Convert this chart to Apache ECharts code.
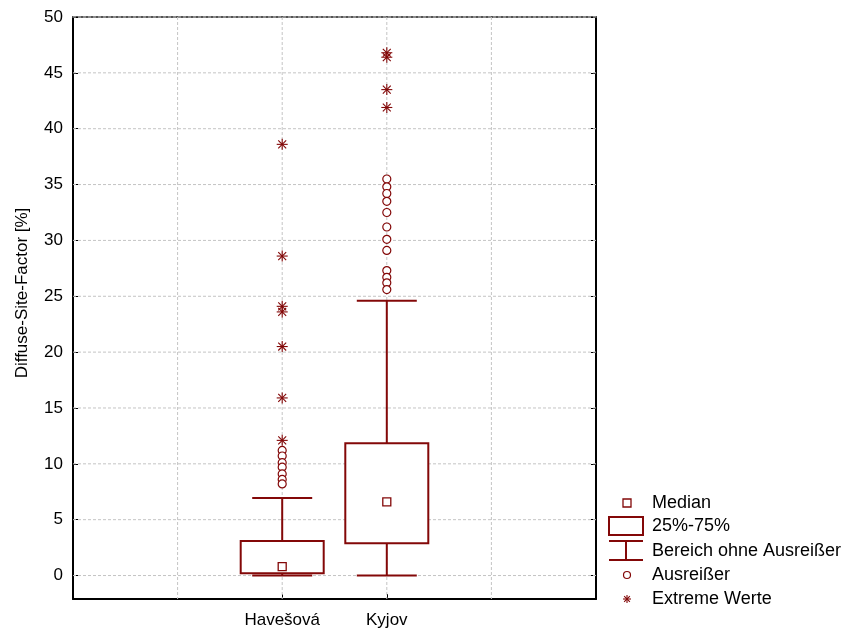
<!DOCTYPE html>
<html>
<head>
<meta charset="utf-8">
<script src="https://cdn.jsdelivr.net/npm/echarts@6/dist/echarts.min.js"></script>
<style>
  html, body { margin: 0; padding: 0; background: #fff; }
  #chart { width: 848px; height: 630px; }
</style>
</head>
<body>
<div id="chart"></div>
<script>
// Sites and their x positions on the 0..5 axis
const categories = ['Havešová', 'Kyjov'];
const categoryPos = [2, 3];

// Box statistics per site
const whiskerLow = [0, 0];
const quartile1 = [0.2, 2.9];
const median = [0.8, 6.6];
const quartile3 = [3.1, 11.85];
const whiskerHigh = [6.95, 24.6];

// Outliers (circles) and extreme values (asterisks)
const outliersHavesova = [11.2, 10.7, 10.1, 9.7, 9.1, 8.6, 8.2];
const outliersKyjov = [35.5, 34.8, 34.2, 33.5, 32.5, 31.2, 30.1, 29.1, 27.3, 26.7, 26.2, 25.6];
const extremesHavesova = [38.6, 28.6, 24.1, 23.6, 20.5, 15.9, 12.1];
const extremesKyjov = [46.8, 46.4, 43.5, 41.9];

// Tick values
const yTicks = [0, 5, 10, 15, 20, 25, 30, 35, 40, 45, 50];
const xGrid = [1, 2, 3, 4];

const yAxisTitle = 'Diffuse-Site-Factor [%]';
const legendLabels = ['Median', '25%-75%', 'Bereich ohne Ausreißer', 'Ausreißer', 'Extreme Werte'];

const RED = '#830808';
const FONT = '"Liberation Sans", Arial, sans-serif';

const boxData = categoryPos.map((x, i) => [x, whiskerLow[i], quartile1[i], median[i], quartile3[i], whiskerHigh[i]]);
const outlierData = [
  ...outliersHavesova.map(v => [categoryPos[0], v]),
  ...outliersKyjov.map(v => [categoryPos[1], v])
];
const extremeData = [
  ...extremesHavesova.map(v => [categoryPos[0], v]),
  ...extremesKyjov.map(v => [categoryPos[1], v])
];
const gridData = [
  ...xGrid.map(v => [0, v]),
  ...yTicks.map(v => [1, v])
];

function asteriskShapes(cx, cy, r, color) {
  const d = r * 0.72;
  const segs = [
    [cx - r, cy, cx + r, cy],
    [cx, cy - r, cx, cy + r],
    [cx - d, cy - d, cx + d, cy + d],
    [cx - d, cy + d, cx + d, cy - d]
  ];
  return segs.map(s => ({
    type: 'line',
    shape: { x1: s[0], y1: s[1], x2: s[2], y2: s[3] },
    style: { stroke: color, lineWidth: 1.1 }
  }));
}

const chart = echarts.init(document.getElementById('chart'), null, { renderer: 'canvas' });

const legendX = 627;
const legendTextX = 652;
const legendY = [503, 526, 551, 575, 599];

const extraGraphics = [
  // rotated y-axis title
  {
    type: 'text', x: 22, y: 293, rotation: Math.PI / 2,
    style: { text: yAxisTitle, fill: '#000', font: '17px ' + FONT, align: 'center', verticalAlign: 'middle' }
  },
  // legend keys
  { type: 'rect', shape: { x: legendX - 4, y: legendY[0] - 4, width: 8, height: 8 },
    style: { fill: '#fff', stroke: RED, lineWidth: 1.3 } },
  { type: 'rect', shape: { x: 609, y: 517, width: 34, height: 18 },
    style: { fill: '#fff', stroke: RED, lineWidth: 2 } },
  { type: 'line', shape: { x1: 609, y1: 541, x2: 643, y2: 541 }, style: { stroke: RED, lineWidth: 2 } },
  { type: 'line', shape: { x1: 609, y1: 560, x2: 643, y2: 560 }, style: { stroke: RED, lineWidth: 2 } },
  { type: 'line', shape: { x1: 626, y1: 541, x2: 626, y2: 560 }, style: { stroke: RED, lineWidth: 2 } },
  { type: 'circle', shape: { cx: legendX, cy: legendY[3], r: 3.5 },
    style: { fill: '#fff', stroke: RED, lineWidth: 1.2 } },
  { type: 'group', children: asteriskShapes(legendX, legendY[4], 4, RED) },
  ...legendLabels.map((t, i) => ({
    type: 'text', x: legendTextX, y: legendY[i],
    style: { text: t, fill: '#000', font: '18px ' + FONT, verticalAlign: 'middle' }
  }))
];

const option = {
  animation: false,
  backgroundColor: '#fff',
  grid: { left: 73, top: 17, right: 252, bottom: 31, containLabel: false },
  xAxis: [
    {
      type: 'value', min: 0, max: 5, position: 'bottom',
      axisLine: { show: true, onZero: false, lineStyle: { color: '#000', width: 2 } },
      axisTick: { show: true, inside: true, length: 5, customValues: categoryPos, lineStyle: { color: '#000', width: 1 } },
      axisLabel: {
        customValues: categoryPos, margin: 13, color: '#000', fontSize: 17, fontFamily: FONT,
        formatter: v => categories[categoryPos.indexOf(v)] || ''
      },
      splitLine: { show: false }
    },
    {
      type: 'value', min: 0, max: 5, position: 'top',
      axisLine: { show: true, onZero: false, lineStyle: { color: '#555', width: 2 } },
      axisTick: { show: false }, axisLabel: { show: false }, splitLine: { show: false }
    }
  ],
  yAxis: [
    {
      type: 'value', min: -2.1, max: 50, position: 'left',
      axisLine: { show: true, onZero: false, lineStyle: { color: '#000', width: 2 } },
      axisTick: { show: true, inside: true, length: 5, customValues: yTicks, lineStyle: { color: '#000', width: 1 } },
      axisLabel: { customValues: yTicks, margin: 10, color: '#000', fontSize: 17, fontFamily: FONT },
      splitLine: { show: false }
    },
    {
      type: 'value', min: -2.1, max: 50, position: 'right',
      axisLine: { show: true, onZero: false, lineStyle: { color: '#000', width: 2 } },
      axisTick: { show: true, inside: true, length: 5, customValues: yTicks, lineStyle: { color: '#000', width: 1 } },
      axisLabel: { show: false }, splitLine: { show: false }
    }
  ],
  series: [
    {
      // dashed grid lines: kind 0 = vertical, kind 1 = horizontal
      type: 'custom', z: 1, silent: true,
      data: gridData,
      encode: { x: 1, y: 1 },
      renderItem: (params, api) => {
        const kind = api.value(0);
        const v = api.value(1);
        const cs = params.coordSys;
        let shape;
        if (kind === 0) {
          const px = api.coord([v, 0])[0];
          shape = { x1: px, y1: cs.y, x2: px, y2: cs.y + cs.height };
        } else {
          const py = api.coord([0, v])[1];
          shape = { x1: cs.x, y1: py, x2: cs.x + cs.width, y2: py };
        }
        return { type: 'line', shape, style: { stroke: '#c4c4c4', lineWidth: 1, lineDash: [3, 2] } };
      }
    },
    {
      // box, whiskers and median
      type: 'custom', z: 3,
      data: boxData,
      encode: { x: 0, y: [1, 2, 3, 4, 5] },
      renderItem: (params, api) => {
        const x = api.value(0);
        const pLow = api.coord([x, api.value(1)]);
        const pQ1 = api.coord([x, api.value(2)]);
        const pMed = api.coord([x, api.value(3)]);
        const pQ3 = api.coord([x, api.value(4)]);
        const pHigh = api.coord([x, api.value(5)]);
        const cx = pQ1[0];
        const halfBox = 41.5;
        const halfCap = 30;
        const line = (x1, y1, x2, y2) => ({
          type: 'line', shape: { x1, y1, x2, y2 }, style: { stroke: RED, lineWidth: 2 }
        });
        return {
          type: 'group',
          children: [
            line(cx, pHigh[1], cx, pQ3[1]),
            line(cx, pQ1[1], cx, pLow[1]),
            line(cx - halfCap, pHigh[1], cx + halfCap, pHigh[1]),
            line(cx - halfCap, pLow[1], cx + halfCap, pLow[1]),
            {
              type: 'rect',
              shape: { x: cx - halfBox, y: pQ3[1], width: halfBox * 2, height: pQ1[1] - pQ3[1] },
              style: { fill: '#fff', stroke: RED, lineWidth: 2 }
            },
            {
              type: 'rect',
              shape: { x: cx - 4, y: pMed[1] - 4, width: 8, height: 8 },
              style: { fill: '#fff', stroke: RED, lineWidth: 1.3 }
            }
          ]
        };
      }
    },
    {
      type: 'scatter', z: 4,
      data: outlierData,
      symbol: 'circle', symbolSize: 8,
      itemStyle: { color: '#fff', borderColor: RED, borderWidth: 1.2, opacity: 1 }
    },
    {
      type: 'custom', z: 5,
      data: extremeData,
      encode: { x: 0, y: 1 },
      renderItem: (params, api) => {
        const p = api.coord([api.value(0), api.value(1)]);
        return { type: 'group', children: asteriskShapes(p[0], p[1], 5.5, RED) };
      }
    }
  ],
  graphic: extraGraphics
};

chart.setOption(option);
</script>
</body>
</html>
